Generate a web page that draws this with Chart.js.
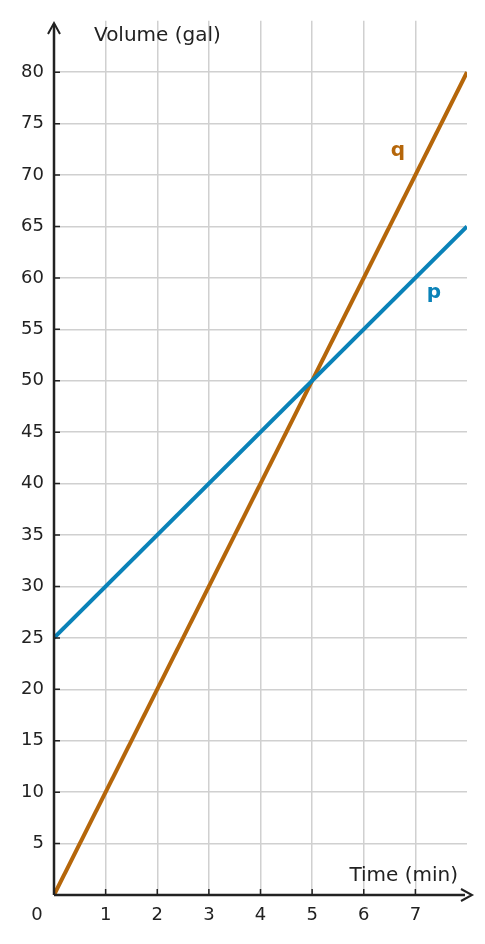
<!DOCTYPE html>
<html>
<head>
<meta charset="utf-8">
<script src="https://cdn.jsdelivr.net/npm/chart.js@4/dist/chart.umd.min.js"></script>
<style>
  html, body { margin: 0; padding: 0; background: #fff; }
  #wrap { width: 485px; height: 944px; }
</style>
</head>
<body>
<div id="wrap"><canvas id="c" width="485" height="944"></canvas></div>
<script>
// data
const timeMin = [0, 8];
const volumeP = [25, 65];
const volumeQ = [0, 80];
const xTicks = [1, 2, 3, 4, 5, 6, 7];
const yTicks = [5, 10, 15, 20, 25, 30, 35, 40, 45, 50, 55, 60, 65, 70, 75, 80];

const BLUE = "#0a82b8";
const ORANGE = "#b5660a";
const INK = "#222";
const FONT = "'DejaVu Sans', sans-serif";

// axes with arrows, labels
const decor = {
  id: "decor",
  afterDraw(chart) {
    const { ctx, chartArea: a, scales: { x, y } } = chart;
    const x0 = x.getPixelForValue(0), y0 = y.getPixelForValue(0);
    ctx.save();
    ctx.strokeStyle = INK;
    ctx.lineWidth = 2.5;
    ctx.beginPath();
    ctx.moveTo(x0, y0); ctx.lineTo(x0, 24);
    ctx.moveTo(x0, y0); ctx.lineTo(a.right - 8 + 6, y0);
    ctx.stroke();
    ctx.lineWidth = 2;
    ctx.beginPath();
    ctx.moveTo(x0 - 6, 34); ctx.lineTo(x0, 23); ctx.lineTo(x0 + 6, 34);
    ctx.moveTo(a.right - 12 + 6, y0 - 6); ctx.lineTo(a.right + 6 - 1, y0); ctx.lineTo(a.right - 12 + 6, y0 + 6);
    ctx.stroke();
    // small tick marks
    ctx.lineWidth = 1.5;
    ctx.beginPath();
    yTicks.forEach(v => { const py = y.getPixelForValue(v); ctx.moveTo(x0, py); ctx.lineTo(x0 + 6, py); });
    xTicks.forEach(v => { const px = x.getPixelForValue(v); ctx.moveTo(px, y0); ctx.lineTo(px, y0 - 6); });
    ctx.stroke();
    ctx.fillStyle = INK;
    ctx.font = "20px " + FONT;
    ctx.textBaseline = "middle";
    ctx.textAlign = "left";
    ctx.fillText("Volume (gal)", 94, 36);
    ctx.textAlign = "right";
    ctx.fillText("Time (min)", 458, 876);
    ctx.font = "18px " + FONT;
    ctx.textAlign = "center";
    ctx.fillText("0", 37, 915);
    ctx.font = "bold 20px " + FONT;
    ctx.fillStyle = ORANGE;
    ctx.fillText("q", 398, 151);
    ctx.fillStyle = BLUE;
    ctx.fillText("p", 434, 293);
    ctx.restore();
  }
};

new Chart(document.getElementById("c"), {
  type: "line",
  data: {
    datasets: [
      { label: "p", data: timeMin.map((t, i) => ({ x: t, y: volumeP[i] })), borderColor: BLUE, borderWidth: 4, pointRadius: 0 },
      { label: "q", data: timeMin.map((t, i) => ({ x: t, y: volumeQ[i] })), borderColor: ORANGE, borderWidth: 4, pointRadius: 0 }
    ]
  },
  options: {
    responsive: false,
    animation: false,
    layout: { padding: { top: 18, right: 18, left: 0, bottom: 0 } },
    plugins: { legend: { display: false }, tooltip: { enabled: false } },
    scales: {
      x: {
        type: "linear", min: 0, max: 8,
        afterFit: s => { s.height = 49; },
        afterBuildTicks: s => { s.ticks = xTicks.map(v => ({ value: v })); },
        grid: { color: "#d0d0d0", lineWidth: 1.5, drawTicks: false },
        border: { display: false },
        ticks: { color: INK, font: { family: FONT, size: 18 }, padding: 10 }
      },
      y: {
        min: 0, max: 85,
        afterFit: s => { s.width = 54; },
        afterBuildTicks: s => { s.ticks = yTicks.map(v => ({ value: v })); },
        grid: { color: "#d0d0d0", lineWidth: 1.5, drawTicks: false },
        border: { display: false },
        ticks: { color: INK, font: { family: FONT, size: 18 }, padding: 10 }
      }
    }
  },
  plugins: [decor]
});
</script>
</body>
</html>
